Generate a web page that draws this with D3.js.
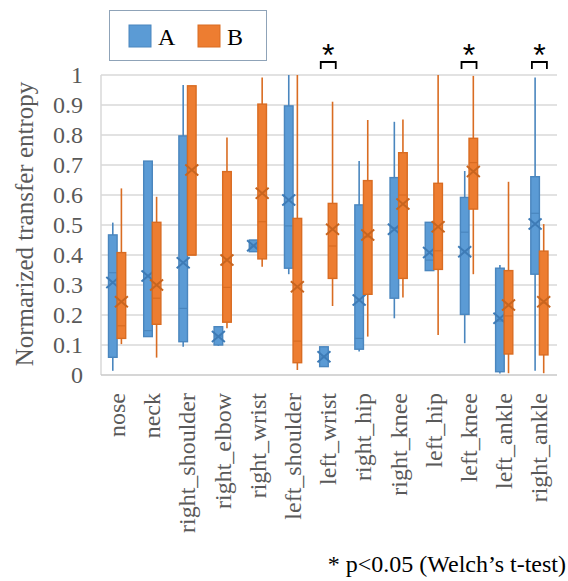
<!DOCTYPE html>
<html>
<head>
<meta charset="utf-8">
<script src="https://cdn.jsdelivr.net/npm/d3@7"></script>
<style>
  html, body { margin: 0; padding: 0; background: #fff; }
  svg { display: block; }
</style>
</head>
<body>
<svg id="chart" width="568" height="581"></svg>
<script>
// Joints along the x axis
const categories = ["nose", "neck", "right_shoulder", "right_elbow", "right_wrist", "left_shoulder",
  "left_wrist", "right_hip", "right_knee", "left_hip", "left_knee", "left_ankle", "right_ankle"];

// Series A: whisker low, Q1, median, Q3, whisker high, mean
const aMin  = [0.014, 0.128, 0.094, 0.097, 0.411, 0.336, 0.028, 0.078, 0.189, 0.348, 0.106, 0.005, 0.014];
const aQ1   = [0.059, 0.128, 0.111, 0.100, 0.411, 0.356, 0.028, 0.086, 0.256, 0.348, 0.202, 0.011, 0.336];
const aMed  = [0.341, 0.148, 0.222, 0.130, 0.430, 0.497, 0.060, 0.122, 0.490, 0.383, 0.476, 0.180, 0.539];
const aQ3   = [0.467, 0.713, 0.797, 0.161, 0.450, 0.897, 0.094, 0.567, 0.658, 0.509, 0.592, 0.356, 0.661];
const aMax  = [0.508, 0.713, 0.967, 0.161, 0.450, 1.000, 0.094, 0.713, 0.844, 0.509, 0.680, 0.367, 0.992];
const aMean = [0.308, 0.330, 0.374, 0.128, 0.431, 0.583, 0.061, 0.250, 0.486, 0.408, 0.411, 0.189, 0.503];

// Series B
const bMin  = [0.103, 0.058, 0.400, 0.156, 0.361, 0.017, 0.230, 0.128, 0.258, 0.133, 0.336, 0.006, 0.006];
const bQ1   = [0.122, 0.169, 0.400, 0.176, 0.387, 0.041, 0.322, 0.269, 0.322, 0.352, 0.553, 0.070, 0.067];
const bMed  = [0.164, 0.256, 0.400, 0.292, 0.511, 0.113, 0.430, 0.460, 0.600, 0.414, 0.708, 0.197, 0.240];
const bQ3   = [0.408, 0.509, 0.964, 0.678, 0.903, 0.522, 0.572, 0.648, 0.741, 0.639, 0.789, 0.348, 0.413];
const bMax  = [0.622, 0.594, 0.964, 0.792, 0.992, 1.000, 0.911, 0.850, 0.852, 1.000, 0.997, 0.644, 0.503];
const bMean = [0.244, 0.300, 0.683, 0.383, 0.606, 0.294, 0.486, 0.467, 0.570, 0.494, 0.678, 0.233, 0.244];

// Joints with a significant A/B difference
const significant = ["left_wrist", "left_knee", "right_ankle"];

const yTicks = [0, 0.1, 0.2, 0.3, 0.4, 0.5, 0.6, 0.7, 0.8, 0.9, 1];

const seriesList = [
  { name: "A", fill: "#5B9BD5", stroke: "#4A86BE", mark: "#3E7BB6", offset: -4.3,
    min: aMin, q1: aQ1, med: aMed, q3: aQ3, max: aMax, mean: aMean },
  { name: "B", fill: "#ED7D31", stroke: "#D96C22", mark: "#C8651F", offset: 4.3,
    min: bMin, q1: bQ1, med: bMed, q3: bQ3, max: bMax, mean: bMean }
];

const SERIF = '"Liberation Serif", "Times New Roman", Tinos';

const svg = d3.select("#chart");

const x = d3.scaleBand().domain(categories).range([99.5, 557]).padding(0);
const y = d3.scaleLinear().domain([0, 1]).range([375, 75]);

// gridlines
svg.append("g").selectAll("line").data(yTicks.filter(d => d > 0)).join("line")
  .attr("x1", 101).attr("x2", 557)
  .attr("y1", d => y(d)).attr("y2", d => y(d))
  .attr("stroke", "#d9d9d9").attr("stroke-width", 1.5);

// left and bottom axis lines
svg.append("line").attr("x1", 101).attr("x2", 101).attr("y1", y(1)).attr("y2", y(0))
  .attr("stroke", "#d9d9d9").attr("stroke-width", 1.5);
svg.append("line").attr("x1", 101).attr("x2", 557).attr("y1", y(0)).attr("y2", y(0))
  .attr("stroke", "#c8c8c8").attr("stroke-width", 1.5);

// y axis tick labels
const yAxis = d3.axisLeft(y).tickValues(yTicks).tickSize(0).tickPadding(0)
  .tickFormat(d => d3.format("")(+d.toFixed(1)));
const yg = svg.append("g").attr("transform", "translate(83,0)").call(yAxis);
yg.select(".domain").remove();
yg.selectAll("text").style("font-family", SERIF).style("font-size", "24px")
  .attr("fill", "#595959").attr("dy", "0.33em");

// y axis title
svg.append("text")
  .attr("transform", `translate(33,${y(0.5) - 1}) rotate(-90)`)
  .attr("text-anchor", "middle")
  .style("font-family", SERIF).style("font-size", "25px").attr("fill", "#595959")
  .text("Normarized transfer entropy");

// x axis labels (rotated)
const xAxis = d3.axisBottom(x).tickSize(0).tickPadding(0);
const xg = svg.append("g").attr("transform", "translate(0,393)").call(xAxis);
xg.select(".domain").remove();
xg.selectAll("text")
  .style("font-family", SERIF).style("font-size", "24px").attr("fill", "#595959")
  .attr("text-anchor", "end")
  .attr("transform", "rotate(-90)")
  .attr("x", 0).attr("y", 0).attr("dx", 0).attr("dy", "0.33em");

// boxes
const bw = 8.6;
seriesList.forEach(s => {
  const g = svg.append("g");
  categories.forEach((c, i) => {
    const cx = x(c) + x.bandwidth() / 2 + s.offset;
    // whisker
    g.append("line").attr("x1", cx).attr("x2", cx)
      .attr("y1", y(s.max[i])).attr("y2", y(s.min[i]))
      .attr("stroke", s.stroke).attr("stroke-width", 1.6);
    // box
    g.append("rect").attr("x", cx - bw / 2).attr("width", bw)
      .attr("y", y(s.q3[i])).attr("height", Math.max(1, y(s.q1[i]) - y(s.q3[i])))
      .attr("fill", s.fill).attr("stroke", s.stroke).attr("stroke-width", 1.4);
    // median
    g.append("line").attr("x1", cx - bw / 2).attr("x2", cx + bw / 2)
      .attr("y1", y(s.med[i])).attr("y2", y(s.med[i]))
      .attr("stroke", s.stroke).attr("stroke-width", 1.2);
    // mean marker
    const my = y(s.mean[i]), hx = 6.5, hy = 5.5;
    g.append("path")
      .attr("d", `M${cx - hx},${my - hy}L${cx + hx},${my + hy}M${cx - hx},${my + hy}L${cx + hx},${my - hy}`)
      .attr("stroke", s.mark).attr("stroke-width", 2).attr("fill", "none");
  });
});

// significance brackets
significant.forEach(c => {
  const cx = x(c) + x.bandwidth() / 2;
  const x0 = cx - 7.5, x1 = cx + 7.5, top = 62, bot = 69;
  svg.append("path")
    .attr("d", `M${x0},${bot}L${x0},${top}L${x1},${top}L${x1},${bot}`)
    .attr("stroke", "#000").attr("stroke-width", 1.8).attr("fill", "none");
  svg.append("text").attr("x", cx).attr("y", 66)
    .attr("text-anchor", "middle")
    .style("font-family", '"Liberation Sans", Arial').style("font-size", "32px")
    .attr("fill", "#000").text("*");
});

// legend
const lg = svg.append("g");
lg.append("rect").attr("x", 109.5).attr("y", 10.5).attr("width", 157).attr("height", 50)
  .attr("fill", "#fff").attr("stroke", "#8FA3B8").attr("stroke-width", 1);
seriesList.forEach((s, i) => {
  const sx = 129 + i * 69;
  lg.append("rect").attr("x", sx).attr("y", 25).attr("width", 22).attr("height", 22)
    .attr("fill", s.fill).attr("stroke", s.stroke).attr("stroke-width", 1);
  lg.append("text").attr("x", sx + 29).attr("y", 45)
    .style("font-family", SERIF).style("font-size", "24px").attr("fill", "#000").text(s.name);
});

// footnote
svg.append("text").attr("x", 566).attr("y", 572).attr("text-anchor", "end")
  .style("font-family", SERIF).style("font-size", "24px").attr("fill", "#000")
  .text("* p<0.05 (Welch\u2019s t-test)");
</script>
</body>
</html>
